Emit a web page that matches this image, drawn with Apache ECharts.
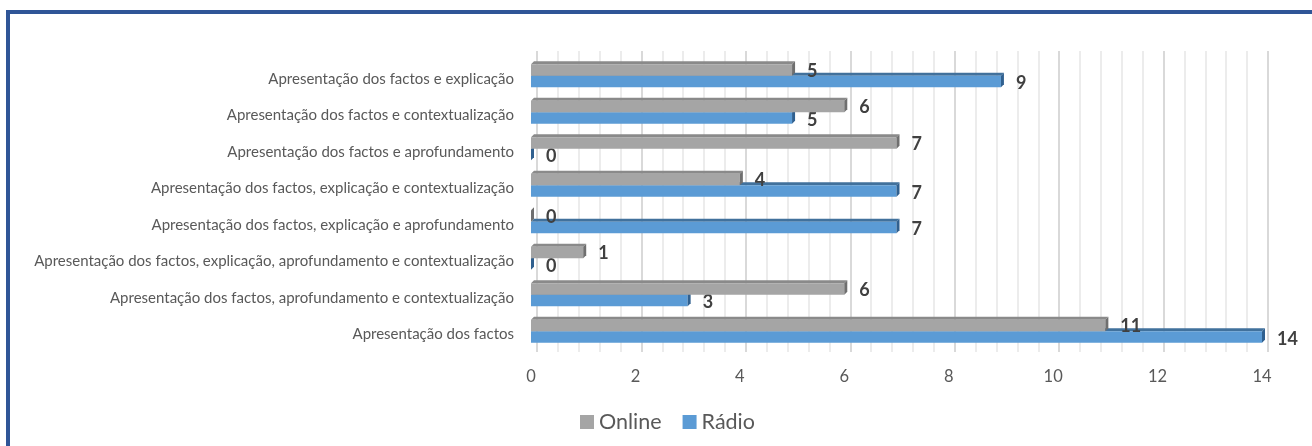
<!DOCTYPE html>
<html>
<head>
<meta charset="utf-8">
<script src="https://cdn.jsdelivr.net/npm/echarts@6/dist/echarts.min.js"></script>
<style>
  body { margin: 0; background: #fff; }
  #frame {
    position: absolute;
    left: 6px;
    top: 10px;
    width: 1400px;
    height: 500px;
    border-top: 4px solid #2f5597;
    border-left: 4px solid #2f5597;
  }
  #chart {
    position: absolute;
    left: 0;
    top: 0;
    width: 1312px;
    height: 446px;
  }
</style>
</head>
<body>
<div id="frame"></div>
<div id="chart"></div>
<script>
// categorias (de cima para baixo)
var categories = [
  "Apresentação dos factos e explicação",
  "Apresentação dos factos e contextualização",
  "Apresentação dos factos e aprofundamento",
  "Apresentação dos factos, explicação e contextualização",
  "Apresentação dos factos, explicação e aprofundamento",
  "Apresentação dos factos, explicação, aprofundamento e contextualização",
  "Apresentação dos factos, aprofundamento e contextualização",
  "Apresentação dos factos"
];
var online = [5, 6, 7, 4, 0, 1, 6, 11];
var radio = [9, 5, 0, 7, 7, 0, 3, 14];
var axisMin = 0;
var axisMax = 14;
var axisStep = 2;

var font = "Lato, 'Open Sans', sans-serif";

// barra com efeito 3D (frente, topo, lado)
function bar3d(front, top, side, upper, labelDy) {
  return function (params, api) {
    var ci = api.value(0);
    var v = api.value(1);
    var p0 = api.coord([0, ci]);
    var p1 = api.coord([v, ci]);
    var band = api.size([0, 1])[1];
    var h = band * 0.315;
    var d = 3;
    var y = upper ? p0[1] - h : p0[1];
    var x0 = p0[0];
    var x1 = p1[0];
    return {
      type: "group",
      children: [
        {
          type: "polygon",
          shape: { points: [[x0, y], [x0 + d, y - d], [x1 + d, y - d], [x1, y]] },
          style: { fill: top }
        },
        {
          type: "rect",
          shape: { x: x0, y: y, width: x1 - x0, height: h },
          style: { fill: front }
        },
        {
          type: "polygon",
          shape: { points: [[x1, y], [x1 + d, y - d], [x1 + d, y + h - d], [x1, y + h]] },
          style: { fill: side }
        },
        {
          type: "text",
          style: {
            text: String(v),
            x: x1 + 15,
            y: y + h / 2 + labelDy,
            fill: "#404040",
            font: "bold 18px " + font,
            verticalAlign: "middle",
            align: "left"
          }
        }
      ]
    };
  };
}

function toData(arr) {
  return arr.map(function (v, i) { return [i, v]; });
}

var chart = echarts.init(document.getElementById("chart"));
var option = {
  animation: false,
  backgroundColor: "transparent",
  grid: [
    { left: 531, right: 50, top: 57.5, bottom: 96.5 },   // barras
    { left: 537, right: 44, top: 51, bottom: 101 },      // parede do fundo
    { left: 531, right: 50, top: 60.5, bottom: 93.5 }    // etiquetas das categorias
  ],
  legend: {
    data: [
      { name: "Online", icon: "rect" },
      { name: "Rádio", icon: "rect" }
    ],
    left: 580,
    top: 411,
    padding: 0,
    itemWidth: 14,
    itemHeight: 14,
    itemGap: 21,
    textStyle: { color: "#595959", fontSize: 21.5, fontFamily: font }
  },
  xAxis: [
    {
      gridIndex: 0,
      type: "value",
      min: axisMin,
      max: axisMax,
      interval: axisStep,
      axisLine: { show: false },
      axisTick: { show: false },
      splitLine: { show: false },
      axisLabel: { color: "#595959", fontSize: 16.5, fontFamily: font, margin: 19 }
    },
    {
      gridIndex: 1,
      type: "value",
      min: axisMin,
      max: axisMax,
      interval: axisStep,
      axisLine: { show: false },
      axisLabel: { show: false },
      axisTick: { show: true, length: 7, lineStyle: { color: "#d9d9d9", width: 2 } },
      minorTick: { show: true, splitNumber: 5, length: 7, lineStyle: { color: "#ececec", width: 2 } },
      splitLine: { show: true, lineStyle: { color: "#d9d9d9", width: 2 } },
      minorSplitLine: { show: true, lineStyle: { color: "#ececec", width: 2 } }
    },
    {
      gridIndex: 2,
      type: "value",
      min: axisMin,
      max: axisMax,
      show: false
    }
  ],
  yAxis: [
    {
      gridIndex: 0,
      type: "category",
      inverse: true,
      data: categories,
      axisLine: { show: false },
      axisTick: { show: false },
      axisLabel: { show: false }
    },
    {
      gridIndex: 1,
      type: "category",
      inverse: true,
      data: categories,
      show: false
    },
    {
      gridIndex: 2,
      type: "category",
      inverse: true,
      data: categories,
      axisLine: { show: false },
      axisTick: { show: false },
      splitLine: { show: false },
      axisLabel: {
        color: "#595959",
        fontSize: 15,
        fontFamily: font,
        margin: 17
      }
    }
  ],
  series: [
    {
      name: "Rádio",
      type: "custom",
      xAxisIndex: 0,
      yAxisIndex: 0,
      z: 2,
      itemStyle: { color: "#5b9bd5" },
      encode: { x: 1, y: 0 },
      renderItem: bar3d("#5b9bd5", "#41719c", "#30608f", false, 2),
      data: toData(radio)
    },
    {
      name: "Online",
      type: "custom",
      xAxisIndex: 0,
      yAxisIndex: 0,
      z: 3,
      itemStyle: { color: "#a5a5a5" },
      encode: { x: 1, y: 0 },
      renderItem: bar3d("#a5a5a5", "#8a8a8a", "#6f6f6f", true, 1),
      data: toData(online)
    }
  ]
};
chart.setOption(option);
</script>
</body>
</html>
